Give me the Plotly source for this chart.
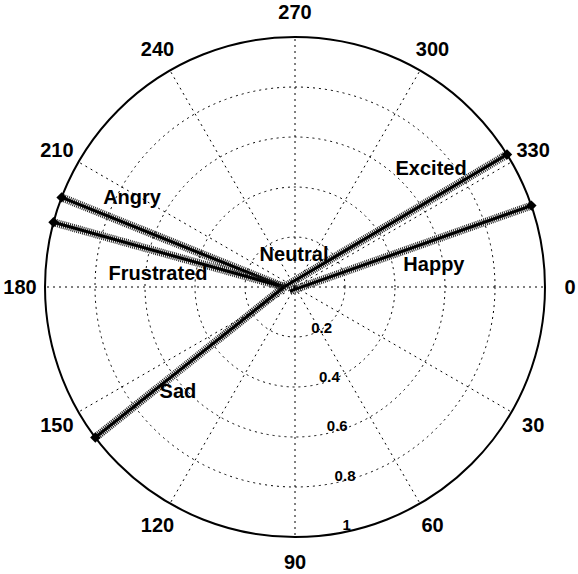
import plotly.graph_objects as go

# Data
emotions = ["Excited", "Happy", "Angry", "Frustrated", "Sad"]
end_theta = [328, 341, 201, 195, 143]
end_r = [1.0, 1.0, 1.0, 1.0, 1.0]
start_theta = [180, 141, 180, 180, 180]
start_r = [0.044, 0.026, 0.044, 0.044, 0.044]

label_text = ["Angry", "Frustrated", "Neutral", "Excited", "Happy", "Sad"]
label_r = [0.741, 0.55, 0.124, 0.718, 0.562, 0.632]
label_theta = [208.4, 185.0, 268.2, 319.3, 351.4, 137.8]

r_ticks = [0.2, 0.4, 0.6, 0.8, 1.0]
r_tick_text = ["0.2", "0.4", "0.6", "0.8", "1"]
ang_ticks = list(range(0, 360, 30))
ang_tick_text = [str(a) for a in ang_ticks]

FONT = "Liberation Sans"
CX, CY, R, W, H = 295, 287, 250, 578, 574
RL = R + 25     # radius at which the angle labels are centred
CY_L = CY + 2   # small vertical nudge for the angle labels

fig = go.Figure()

for i, name in enumerate(emotions):
    rr = [start_r[i], end_r[i]]
    tt = [start_theta[i], end_theta[i]]
    # hatched fringe
    fig.add_trace(go.Scatterpolar(r=rr, theta=tt, mode="lines",
                                  line=dict(color="#222", width=8, dash="1px,1px"),
                                  hoverinfo="skip", showlegend=False))
    # core
    fig.add_trace(go.Scatterpolar(r=rr, theta=tt, mode="lines",
                                  line=dict(color="black", width=3),
                                  name=name, showlegend=False))
    # end marker
    fig.add_trace(go.Scatterpolar(r=[end_r[i]], theta=[end_theta[i]], mode="markers",
                                  marker=dict(symbol="diamond", size=8, color="black"),
                                  hoverinfo="skip", showlegend=False))

fig.add_trace(go.Scatterpolar(r=label_r, theta=label_theta, mode="text",
                              text=label_text,
                              textfont=dict(family=FONT, size=20, color="black", weight="bold"),
                              showlegend=False, hoverinfo="skip"))

# radial tick labels
fig.add_trace(go.Scatterpolar(r=r_ticks, theta=[81] * len(r_ticks), mode="text",
                              text=["\u00a0\u00a0" + t for t in r_tick_text], textposition="top right",
                              textfont=dict(family=FONT, size=15, color="black", weight="bold"),
                              showlegend=False, hoverinfo="skip"))

# angular tick labels on an overlaid, slightly larger polar (centred just outside the rim)
fig.add_trace(go.Scatterpolar(r=[1.0] * len(ang_ticks), theta=ang_ticks, mode="text",
                              text=ang_tick_text, textposition="middle center",
                              cliponaxis=False, subplot="polar2",
                              textfont=dict(family=FONT, size=20, color="black", weight="bold"),
                              showlegend=False, hoverinfo="skip"))

grid_dash = "2px,4px"
fig.update_layout(
    width=W, height=H,
    margin=dict(l=0, r=0, t=0, b=0),
    paper_bgcolor="white", plot_bgcolor="white",
    showlegend=False,
    polar=dict(
        domain=dict(x=[(CX - R) / W, (CX + R) / W], y=[(H - CY - R) / H, (H - CY + R) / H]),
        bgcolor="white",
        radialaxis=dict(range=[0, 1], tickvals=r_ticks, showticklabels=False,
                        showline=False, ticks="", gridcolor="black", griddash=grid_dash,
                        gridwidth=1),
        angularaxis=dict(direction="clockwise", rotation=0, tickvals=ang_ticks,
                         showticklabels=False, ticks="",
                         showline=True, linecolor="black", linewidth=2,
                         gridcolor="black", griddash=grid_dash, gridwidth=1),
    ),
    polar2=dict(
        domain=dict(x=[(CX - RL) / W, (CX + RL) / W],
                    y=[(H - CY_L - RL) / H, (H - CY_L + RL) / H]),
        bgcolor="rgba(0,0,0,0)",
        radialaxis=dict(range=[0, 1], visible=False, showgrid=False),
        angularaxis=dict(direction="clockwise", rotation=0, visible=False, showgrid=False,
                         showline=False, showticklabels=False, ticks=""),
    ),
)

fig.write_html("out.html")
